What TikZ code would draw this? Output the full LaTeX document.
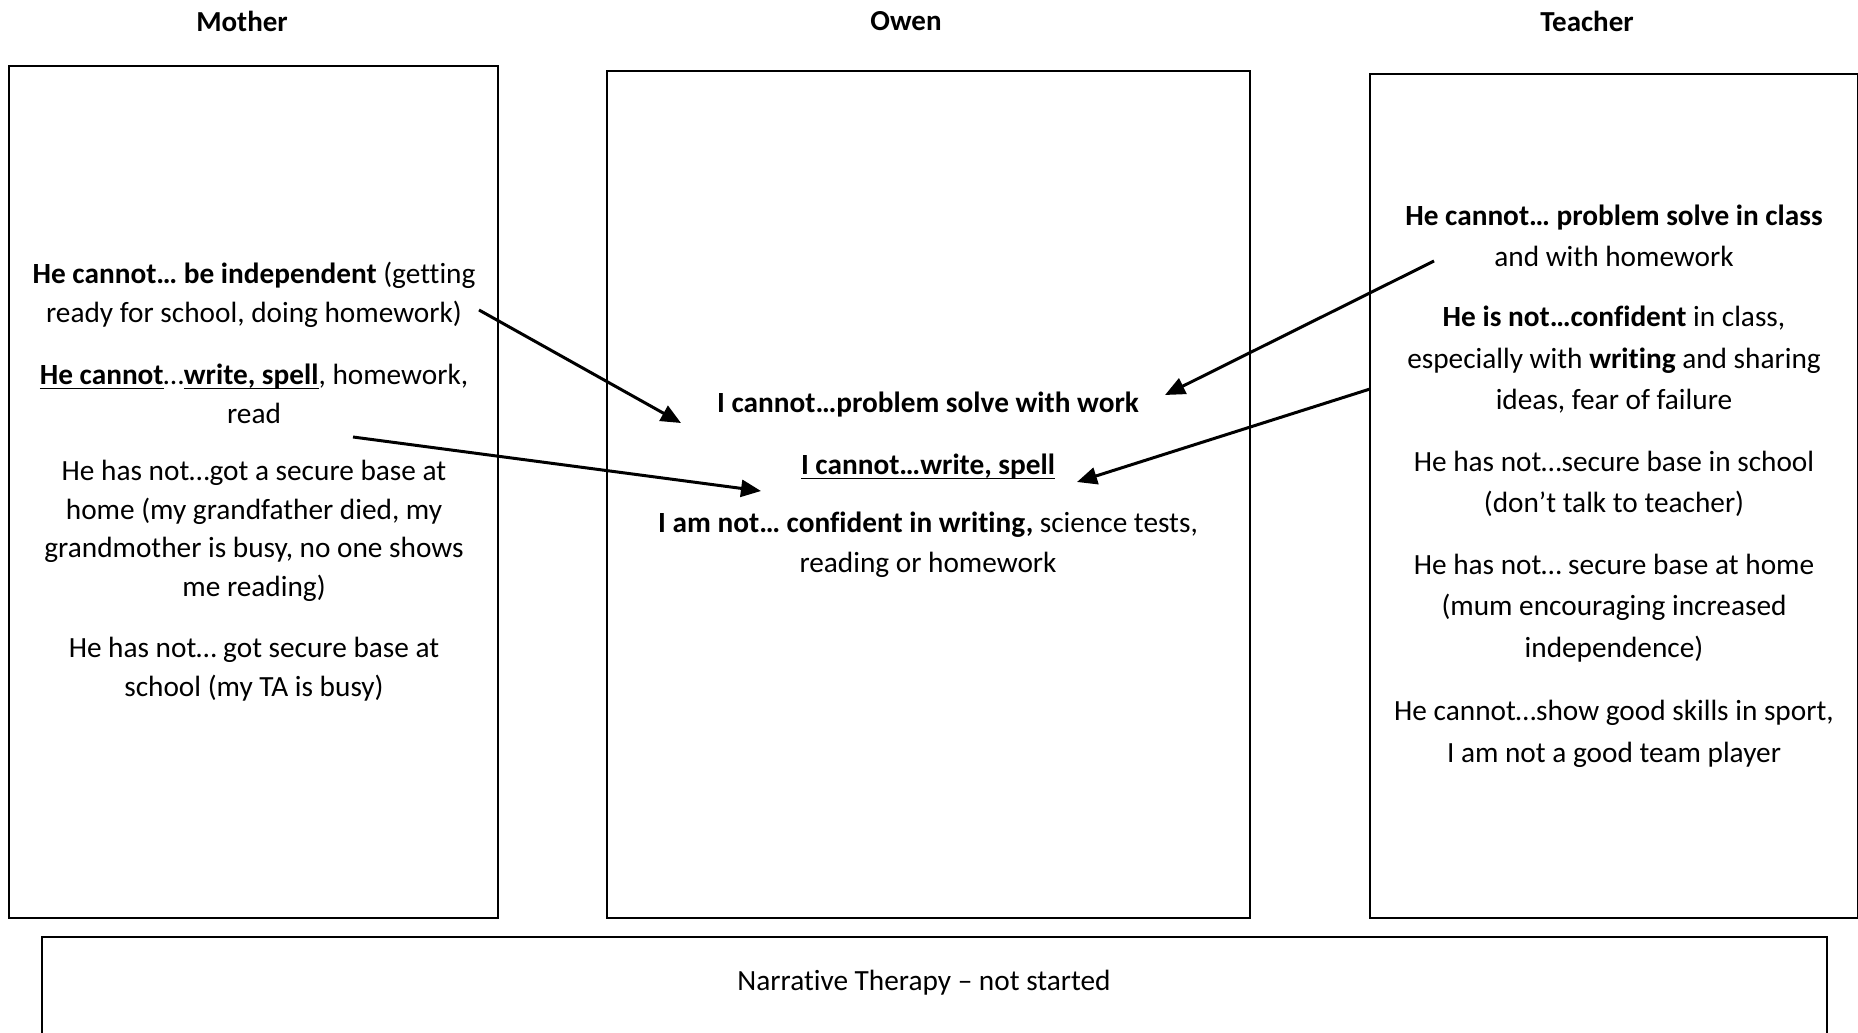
\documentclass[tikz,border=0pt]{standalone}
\usepackage{fontspec}
\setmainfont{Carlito}[Ligatures=NoCommon]
\usetikzlibrary{arrows.meta}
\newcommand\undl[1]{\setbox0\hbox{#1}\rlap{\rule[-4.5pt]{\wd0}{1.8pt}}\box0}
\begin{document}
\begin{tikzpicture}[x=1pt,y=-1pt,
  box/.style={draw, line width=2pt, inner sep=0, rectangle},
  ttl/.style={font=\fontsize{29}{36}\selectfont\bfseries, inner sep=0},
  txt/.style={align=center, font=\fontsize{29.3}{38.5}\selectfont, inner sep=0},
  ttxt/.style={align=center, font=\fontsize{29.3}{41.5}\selectfont, inner sep=0},
  otxt/.style={align=center, font=\fontsize{29.3}{40}\selectfont, inner sep=0},
  arr/.style={line width=3pt, -{Triangle[length=20pt,width=17pt]}}]
\useasboundingbox (0,0) rectangle (1858,1033);
\fill[white] (0,0) rectangle (1858,1033);

% titles
\node[ttl] (tmother) at (242,21) {Mother};
\node[ttl] (towen) at (906,21) {Owen};
\node[ttl] (tteacher) at (1587,21) {Teacher};

% boxes
\node[box, minimum width=489pt, minimum height=852pt] (bmother) at (253.5,492) {};
\node[box, minimum width=643pt, minimum height=847pt] (bowen) at (928.5,494.5) {};
\node[box, minimum width=488pt, minimum height=844pt] (bteacher) at (1613.5,496) {};
\draw[line width=2pt] (42,1040) -- (42,937) -- (1827,937) -- (1827,1040);

% mother
\node[txt] (m1) at (254,295) {\textbf{He cannot… be independent} (getting\\ready for school, doing homework)};
\node[txt] (m2) at (254,394) {\undl{\textbf{He cannot}}…\undl{\textbf{write, spell}}, homework,\\read};
\node[txt] (m3) at (254,531) {He has not…got a secure base at\\home (my grandfather died, my\\grandmother is busy, no one shows\\me reading)};
\node[txt] (m4) at (254,669) {He has not… got secure base at\\school (my TA is busy)};

% owen
\node[otxt] (o1) at (928,405) {\textbf{I cannot…problem solve with work}};
\node[otxt] (o2) at (928,467) {\undl{\textbf{I cannot…write, spell}}};
\node[otxt] (o3) at (928,545) {\textbf{I am not… confident in writing,} science tests,\\reading or homework};

% teacher
\node[ttxt] (t1) at (1614,236) {\textbf{He cannot… problem solve in class}\\and with homework};
\node[ttxt] (t2) at (1614,360) {\textbf{He is not…confident} in class,\\especially with \textbf{writing} and sharing\\ideas, fear of failure};
\node[ttxt] (t3) at (1614,484) {He has not…secure base in school\\(don’t talk to teacher)};
\node[ttxt] (t4) at (1614,608) {He has not… secure base at home\\(mum encouraging increased\\independence)};
\node[ttxt] (t5) at (1614,734) {He cannot…show good skills in sport,\\I am not a good team player};

% bottom
\node[txt] (nt) at (924,983) {Narrative Therapy – not started};

% arrows
\coordinate (a1s) at (479,310);
\coordinate (a1e) at (681,423);
\coordinate (a2s) at (353,437);
\coordinate (a2e) at (761,491);
\coordinate (a3s) at (1434,261);
\coordinate (a3e) at (1165,395);
\coordinate (a4s) at (1370,389);
\coordinate (a4e) at (1077,482);
\draw[arr] (a1s) -- (a1e);
\draw[arr] (a2s) -- (a2e);
\draw[arr] (a3s) -- (a3e);
\draw[arr] (a4s) -- (a4e);
\end{tikzpicture}
\end{document}
